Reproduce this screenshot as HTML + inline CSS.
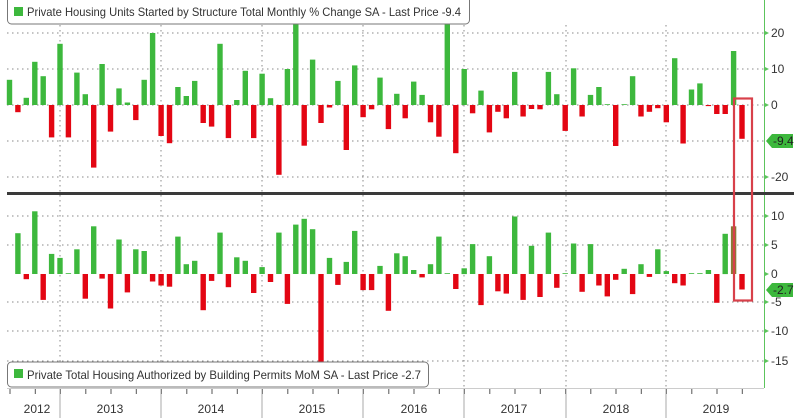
<!DOCTYPE html>
<html><head><meta charset="utf-8"><style>
html,body{margin:0;padding:0;background:#fff;}
svg{display:block;font-family:"Liberation Sans",sans-serif;}
</style></head><body>
<svg id="c" width="800" height="418" viewBox="0 0 800 418" xmlns="http://www.w3.org/2000/svg"></svg>
<script>
(function(){
const topv=[7,-2,2,12,8,-9,17,-9,9,3,-17.4,11.4,-7.4,4.6,0.7,-4.2,7,20,-8.6,-10.6,5,2.5,6.7,-5,-6,17,-9.2,1.4,9.5,-9.2,8.7,1.9,-19.4,10,24,-11.3,12.6,-5,-0.7,6.7,-12.5,11,-3.4,-1.2,7.6,-6.7,3.1,-3.7,6.5,2.8,-4.8,-8.8,24,-13.4,10,-2.3,4,-7.6,-1.9,-3.7,9.2,-3.2,-1.1,-1.2,9.2,3,-7.2,10.2,-3.2,2.8,5,0,-11.4,0.2,8,-3.2,-1.9,-0.9,-4.8,13,-10.7,4.3,6,-0.3,-2.5,-2.5,15,-9.4];
const botv=[7.1,-0.9,10.9,-4.5,3.5,2.8,0.1,4.3,-4.3,8.3,-0.8,-6,6,-3.2,4.3,4,-1.3,-2,-2.2,6.5,1.7,2.3,-6.3,-1.2,7.2,-2.3,2.9,2.3,-3.3,1.2,-1.4,7.2,-5.2,8.6,9.6,7.8,-15.7,2.8,-1.9,2.1,7.5,-2.8,-2.8,1.4,-6.4,3.6,3.1,0.7,-0.6,1.7,6.5,0.1,-2.6,1,5.2,-5.4,3.1,-3,-3.4,10,-4.5,4.9,-4,7.2,-2.4,0.1,5.3,-3.1,5.2,-2,-3.9,-1,0.9,-3.5,1.7,-0.5,4.3,0.5,-1.6,-2,0.1,0.1,0.7,-5,7,8.3,-2.7];
let s='';
const G='#3db83d',R='#e30613';
const yrs=[60,161,262,363,464,566,666];
yrs.forEach(x=>{s+=`<line x1="${x}" y1="25" x2="${x}" y2="388" stroke="#888" stroke-width="1" stroke-dasharray="1.5,3.5"/>`;});
[33,69,105,141,177].forEach(y=>{s+=`<line x1="7" y1="${y}" x2="764" y2="${y}" stroke="#888" stroke-dasharray="1.5,3.5"/>`;});
[216,245,302,331,361].forEach(y=>{s+=`<line x1="7" y1="${y}" x2="764" y2="${y}" stroke="#888" stroke-dasharray="1.5,3.5"/>`;});
const cx=i=>9.5+i*8.42;
topv.forEach((v,i)=>{const h=Math.max(Math.abs(v)*3.6,0.8);const y=v>=0?105-h:105;s+=`<rect x="${(cx(i)-2.7).toFixed(1)}" y="${y.toFixed(1)}" width="5.4" height="${h.toFixed(1)}" fill="${v>=0?G:R}"/>`;});
botv.forEach((v,i)=>{const h=Math.max(Math.abs(v)*5.75,0.8);const y=v>=0?274-h:274;const c=i==botv.length-2?'#8a7a35':(v>=0?G:R);s+=`<rect x="${(cx(i+1)-2.7).toFixed(1)}" y="${y.toFixed(1)}" width="5.4" height="${h.toFixed(1)}" fill="${c}"/>`;});
s+=`<rect x="7" y="192" width="787" height="3" fill="#3a3a3a"/>`;
s+=`<line x1="764.5" y1="0" x2="764.5" y2="192" stroke="#5cc45c"/><line x1="764.5" y1="195" x2="764.5" y2="388" stroke="#5cc45c"/>`;
[[33,'20'],[69,'10'],[105,'0'],[177,'-20']].forEach(([y,t])=>{s+=`<path d="M765 ${y-2} L769 ${y} L765 ${y+2}Z" fill="#5cc45c"/><text x="771" y="${y+4}" font-size="12" fill="#333">${t}</text>`;});
[[216,'10'],[245,'5'],[274,'0'],[302,'-5'],[331,'-10'],[361,'-15']].forEach(([y,t])=>{s+=`<path d="M765 ${y-2} L769 ${y} L765 ${y+2}Z" fill="#5cc45c"/><text x="771" y="${y+4}" font-size="12" fill="#333">${t}</text>`;});
[[141,'-9.4'],[290,'-2.7']].forEach(([y,t])=>{s+=`<path d="M766 ${y} L772 ${y-7} L793 ${y-7} L793 ${y+7} L772 ${y+7}Z" fill="#3db83d"/><text x="773" y="${y+4}" font-size="12" fill="#222">${t}</text>`;});
s+=`<rect x="734" y="98.5" width="18" height="202" fill="none" stroke="#d8404a" stroke-width="2.2"/>`;
s+=`<rect x="7.5" y="-4" width="462" height="28" rx="4" fill="#fff" stroke="#777"/><rect x="14" y="7" width="9" height="9" fill="${G}"/><text x="27" y="16" font-size="12" fill="#333" textLength="434" lengthAdjust="spacingAndGlyphs">Private Housing Units Started by Structure Total Monthly % Change SA - Last Price  -9.4</text>`;
s+=`<rect x="7.5" y="362" width="421" height="25" rx="4" fill="#fff" stroke="#777"/><rect x="14" y="369" width="9" height="9" fill="${G}"/><text x="27" y="379" font-size="12" fill="#333" textLength="394" lengthAdjust="spacingAndGlyphs">Private Total Housing Authorized by Building Permits MoM SA - Last Price  -2.7</text>`;
s+=`<line x1="7" y1="388.5" x2="764" y2="388.5" stroke="#ccc"/>`;
for(let x=10;x<764;x+=25.25){s+=`<line x1="${x.toFixed(1)}" y1="389" x2="${x.toFixed(1)}" y2="394" stroke="#555"/>`;}
yrs.forEach(x=>{s+=`<line x1="${x}" y1="389" x2="${x}" y2="418" stroke="#aaa"/>`;});
[[37,'2012'],[110,'2013'],[211,'2014'],[312,'2015'],[414,'2016'],[514,'2017'],[616,'2018'],[716,'2019']].forEach(([x,t])=>{s+=`<text x="${x}" y="413" font-size="12" fill="#333" text-anchor="middle">${t}</text>`;});
document.getElementById('c').innerHTML=s;
})();
</script>
</body></html>
